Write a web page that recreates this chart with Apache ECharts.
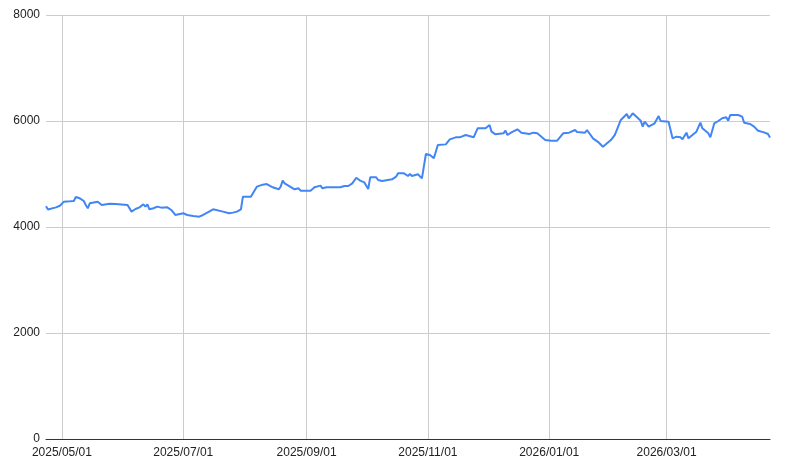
<!DOCTYPE html>
<html>
<head>
<meta charset="utf-8">
<script src="https://cdn.jsdelivr.net/npm/echarts@6/dist/echarts.min.js"></script>
<style>html,body{margin:0;padding:0;background:#fff}#c{width:788px;height:473px}</style>
</head>
<body>
<div id="c"></div>
<script>
var dates = [
'2025-04-23','2025-04-24','2025-04-25','2025-04-28','2025-04-30','2025-05-02','2025-05-05','2025-05-07','2025-05-08','2025-05-10',
'2025-05-12','2025-05-13','2025-05-14','2025-05-15','2025-05-19','2025-05-21','2025-05-22','2025-05-25','2025-05-28','2025-06-03',
'2025-06-05','2025-06-07','2025-06-09','2025-06-10','2025-06-11','2025-06-12','2025-06-13','2025-06-14','2025-06-16','2025-06-18',
'2025-06-19','2025-06-20','2025-06-23','2025-06-25','2025-06-27','2025-07-01','2025-07-03','2025-07-06','2025-07-09','2025-07-10',
'2025-07-11','2025-07-14','2025-07-15','2025-07-16','2025-07-17','2025-07-21','2025-07-24','2025-07-26','2025-07-28','2025-07-30',
'2025-07-31','2025-08-04','2025-08-05','2025-08-07','2025-08-10','2025-08-12','2025-08-15','2025-08-18','2025-08-19','2025-08-20',
'2025-08-21','2025-08-22','2025-08-26','2025-08-27','2025-08-28','2025-08-29','2025-09-03','2025-09-05','2025-09-08','2025-09-09',
'2025-09-11','2025-09-13','2025-09-18','2025-09-20','2025-09-22','2025-09-24','2025-09-26','2025-09-28','2025-09-30','2025-10-02',
'2025-10-03','2025-10-06','2025-10-07','2025-10-08','2025-10-09','2025-10-10','2025-10-14','2025-10-16','2025-10-17','2025-10-20',
'2025-10-22','2025-10-23','2025-10-24','2025-10-27','2025-10-28','2025-10-29','2025-10-30','2025-10-31','2025-11-02','2025-11-04',
'2025-11-06','2025-11-10','2025-11-12','2025-11-15','2025-11-17','2025-11-18','2025-11-20','2025-11-24','2025-11-26','2025-11-30',
'2025-12-02','2025-12-03','2025-12-05','2025-12-09','2025-12-10','2025-12-11','2025-12-13','2025-12-16','2025-12-17','2025-12-18',
'2025-12-22','2025-12-24','2025-12-26','2025-12-30','2026-01-02','2026-01-05','2026-01-06','2026-01-08','2026-01-11','2026-01-14',
'2026-01-15','2026-01-19','2026-01-20','2026-01-23','2026-01-26','2026-01-28','2026-02-01','2026-02-03','2026-02-06','2026-02-09',
'2026-02-10','2026-02-12','2026-02-16','2026-02-17','2026-02-18','2026-02-20','2026-02-23','2026-02-25','2026-02-26','2026-03-02',
'2026-03-04','2026-03-06','2026-03-08','2026-03-09','2026-03-11','2026-03-12','2026-03-14','2026-03-16','2026-03-18','2026-03-19',
'2026-03-22','2026-03-23','2026-03-25','2026-03-27','2026-03-29','2026-03-30','2026-03-31','2026-04-01','2026-04-02','2026-04-03',
'2026-04-06','2026-04-08','2026-04-09','2026-04-12','2026-04-14','2026-04-16','2026-04-19','2026-04-21','2026-04-22'
];
var values = [
4390,4330,4340,4370,4400,4478,4485,4490,4565,4541,
4490,4415,4353,4447,4478,4415,4447,4440,4434,4415,
4290,4340,4371,4384,4428,4384,4428,4334,4353,4384,
4415,4365,4371,4321,4227,4259,4227,4208,4195,4164,
4227,4290,4308,4334,4308,4290,4259,4271,4290,4334,
4572,4572,4604,4761,4799,4811,4749,4711,4761,4874,
4824,4824,4711,4698,4730,4686,4686,4749,4780,4730,
4749,4749,4749,4774,4774,4824,4930,4874,4843,4717,
4937,4937,4887,4905,4868,4899,4899,4949,5012,5012,
4962,5000,4962,4994,4981,4918,4937,5377,5358,5296,
5547,5559,5654,5692,5692,5660,5736,5692,5862,5862,
5925,5799,5748,5767,5817,5736,5786,5843,5811,5780,
5755,5780,5767,5641,5628,5628,5591,5767,5780,5830,
5792,5780,5830,5673,5591,5515,5641,5736,6019,6132,
6051,6145,6006,5893,5987,5893,5956,6094,6000,5987,
5673,5704,5692,5654,5780,5673,5736,5799,5968,5862,
5767,5692,5956,6000,6051,6019,6069,6006,6113,6082,
6113,6082,5968,5943,5893,5817,5786,5755,5686
];
var tickDates = ['2025-05-01','2025-07-01','2025-09-01','2025-11-01','2026-01-01','2026-03-01'];
var yTicks = [0, 2000, 4000, 6000, 8000];

function ts(s){ var p = s.split('-'); return Date.UTC(+p[0], +p[1]-1, +p[2]); }
var seriesData = dates.map(function(d, i){ return [ts(d), values[i]]; });
var tickTs = tickDates.map(ts);

var chart = echarts.init(document.getElementById('c'), null, {renderer: 'canvas'});
chart.setOption({
  animation: false,
  backgroundColor: '#ffffff',
  grid: {left: 46, right: 18, top: 15, bottom: 34, containLabel: false},
  textStyle: {fontFamily: '"Liberation Sans", Arial, sans-serif'},
  xAxis: {
    type: 'value',
    min: ts(dates[0]),
    max: ts(dates[dates.length - 1]),
    axisLine: {show: true, onZero: false, lineStyle: {color: '#333333', width: 1}},
    axisTick: {show: false, customValues: tickTs},
    axisLabel: {
      customValues: tickTs,
      color: '#222222',
      fontSize: 12,
      margin: 8,
      showMinLabel: true,
      showMaxLabel: true,
      formatter: function(v){
        var d = new Date(v);
        var m = d.getUTCMonth() + 1, dd = d.getUTCDate();
        return d.getUTCFullYear() + '/' + (m < 10 ? '0' + m : m) + '/' + (dd < 10 ? '0' + dd : dd);
      }
    },
    splitLine: {show: true, lineStyle: {color: '#cccccc', width: 1}}
  },
  yAxis: {
    type: 'value',
    min: yTicks[0],
    max: yTicks[yTicks.length - 1],
    interval: 2000,
    axisLine: {show: false},
    axisTick: {show: false},
    axisLabel: {color: '#222222', fontSize: 12, margin: 6, formatter: function(v){ return String(v); }},
    splitLine: {show: true, lineStyle: {color: '#cccccc', width: 1}}
  },
  series: [{
    type: 'line',
    data: seriesData,
    showSymbol: false,
    symbol: 'none',
    lineStyle: {color: '#4285f4', width: 2},
    itemStyle: {color: '#4285f4'}
  }]
});
</script>
</body>
</html>
